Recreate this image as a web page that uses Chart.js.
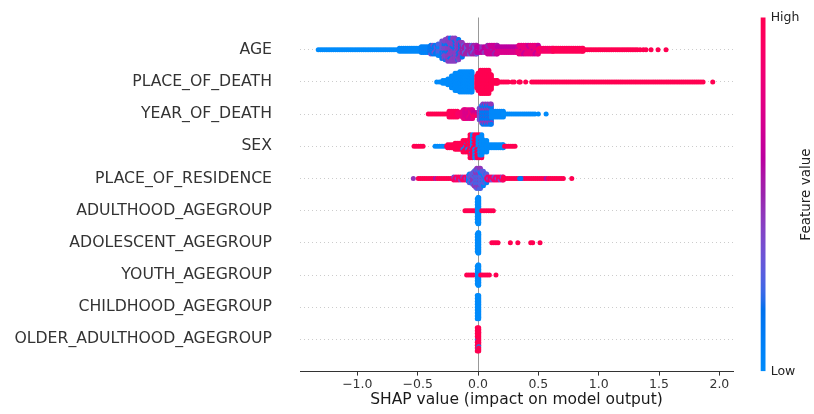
<!DOCTYPE html>
<html><head><meta charset="utf-8">
<script src="https://cdn.jsdelivr.net/npm/chart.js@4.4.1/dist/chart.umd.min.js"></script>
<style>html,body{margin:0;padding:0;background:#fff;}#wrap{width:814px;height:414px;}</style>
</head><body><div id="wrap"><canvas id="c" width="814" height="414"></canvas></div>
<script>
// ---------------- data ----------------
const features = ['AGE','PLACE_OF_DEATH','YEAR_OF_DEATH','SEX','PLACE_OF_RESIDENCE',
  'ADULTHOOD_AGEGROUP','ADOLESCENT_AGEGROUP','YOUTH_AGEGROUP','CHILDHOOD_AGEGROUP','OLDER_ADULTHOOD_AGEGROUP'];
const xTicks = [-1.0, -0.5, 0.0, 0.5, 1.0, 1.5, 2.0];
const colorbarLabels = ['Low', 'High'];
const colorbarTitle = 'Feature value';
const xTitle = 'SHAP value (impact on model output)';

// swarm runs:
// [shapFrom, shapTo, stackedLayers, featureValue(0=low..1=high), mixedFeatureValue, mixEvery]
const ageRuns = [
  [-1.324,-0.66,0,0.0],[-0.66,-0.47,1,0.02],[-0.47,-0.40,2,0.06,0.3,5],[-0.40,-0.33,3,0.12,0.35,4],
  [-0.33,-0.30,4,0.25,0.05,3],[-0.30,-0.28,6,0.35,0.1,4],[-0.28,-0.25,7,0.4,0.12,5],
  [-0.25,-0.19,8,0.42,0.12,5],[-0.19,-0.16,7,0.42,0.12,4],[-0.16,-0.13,5,0.45,0.15,4],
  [-0.13,-0.01,3,0.52,0.3,4],[-0.01,0.07,2,0.6,0.45,4],[0.07,0.16,3,0.66,0.5,5],[0.16,0.33,2,0.72,0.6,5],
  [0.33,0.50,3,0.8,0.65,5],[0.50,0.62,1,0.9,0.8,6],[0.62,0.87,1,0.97],[0.87,1.32,0,1.0],
  [1.343,1.343,0,1],[1.37,1.37,0,1],[1.392,1.392,0,1],[1.434,1.434,0,1],[1.492,1.492,0,1],[1.558,1.558,0,1]
];
const placeOfDeathRuns = [
  [-0.342,-0.30,0,0],[-0.30,-0.25,1,0],[-0.25,-0.22,2,0],[-0.22,-0.19,4,0],[-0.19,-0.16,6,0],[-0.16,-0.05,7,0],
  [-0.011,0.0,4,1],[0.0,0.02,6,1],[0.02,0.09,8,1],[0.09,0.11,5,1],[0.11,0.16,1,1],[0.16,0.25,0,1],
  [0.283,0.30,0,1],[0.34,0.35,0,1],[0.395,0.395,0,1],[0.445,1.865,0,1],[1.945,1.945,0,1]
];
const yearOfDeathRuns = [
  [-0.412,-0.24,0,1.0],[-0.24,-0.17,2,0.97],[-0.17,-0.13,1,0.9],[-0.13,-0.11,3,0.78],
  [-0.11,-0.045,3,0.72,0.82,4],[-0.045,0.01,1,0.9,0.65,3],[0.01,0.03,4,0.35,0.9,4],
  [0.03,0.11,7,0.12,0.45,3],[0.11,0.21,2,0.02],[0.21,0.472,0,0.0],[0.50,0.50,0,0],[0.564,0.564,0,0]
];
const sexRuns = [
  [-0.53,-0.455,0,1],[-0.356,-0.26,0,0],[-0.26,-0.19,1,1],[-0.19,-0.124,2,1],
  [-0.124,-0.066,4,1,0,6],[-0.066,0.031,8,1,0,4],[0.0,0.031,6,0,1,4],[0.031,0.072,4,0],
  [0.072,0.21,1,0],[0.22,0.307,0,1]
];
const placeOfResidenceRuns = [
  [-0.536,-0.536,0,0.45],[-0.495,-0.21,0,1.0,0.55,9],[-0.21,-0.08,1,0.92,0.4,4],
  [-0.08,-0.045,3,0.3,0.05,3],[-0.045,-0.02,5,0.28,0.45,3],[-0.02,0.02,7,0.25,0.45,3],[0.02,0.045,5,0.28,0.05,3],
  [0.045,0.072,3,0.3,0.05,3],[0.072,0.21,1,0.9,0.35,4],[0.21,0.707,0,1.0,0.55,11],
  [0.345,0.355,0,0.1],[0.777,0.777,0,1]
];
const adulthoodRuns = [[-0.108,-0.025,0,1],[-0.006,0.006,9,0],[0.031,0.127,0,1]];
const adolescentRuns = [[-0.006,0.006,7,0],[0.114,0.166,0,1],[0.268,0.268,0,1],[0.33,0.33,0,1],[0.437,0.453,0,1],[0.514,0.514,0,1]];
const youthRuns = [[-0.094,-0.039,0,1],[-0.006,0.006,7,0],[0.022,0.094,0,1],[0.149,0.149,0,1]];
const childhoodRuns = [[-0.006,0.006,8,0]];
const olderAdulthoodRuns = [[-0.006,0.006,8,1,0,13]];

const featureRuns = [ageRuns, placeOfDeathRuns, yearOfDeathRuns, sexRuns, placeOfResidenceRuns,
  adulthoodRuns, adolescentRuns, youthRuns, childhoodRuns, olderAdulthoodRuns];

// ---------------- SHAP red_blue colormap (LCH interpolation) ----------------
function lab2rgb(L, a, b) {
  const fy = (L + 16) / 116, fx = a / 500 + fy, fz = fy - b / 200;
  const f = v => { const v3 = v * v * v; return v3 > 0.008856 ? v3 : (v - 16 / 116) / 7.787; };
  const X = f(fx) * 0.95047, Y = f(fy), Z = f(fz) * 1.08883;
  const r = 3.24048134 * X - 1.53715152 * Y - 0.49853633 * Z;
  const g = -0.96925495 * X + 1.87599 * Y + 0.04155593 * Z;
  const bb = 0.05564664 * X - 0.20404134 * Y + 1.05731107 * Z;
  const gam = v => { v = v > 0.0031308 ? 1.055 * Math.pow(v, 1 / 2.4) - 0.055 : 12.92 * v; return Math.min(1, Math.max(0, v)) * 255; };
  return [gam(r), gam(g), gam(bb)];
}
const CM = [];
(function () {
  const blue = [54, 70, 4.6588], red = [54, 90, 0.35470565 + 2 * Math.PI], lmid = 40, n = 100, half = n / 2;
  for (let i = 0; i < n; i++) {
    const l = i < half ? blue[0] + (lmid - blue[0]) * i / (half - 1) : lmid + (red[0] - lmid) * (i - half) / (half - 1);
    const c = blue[1] + (red[1] - blue[1]) * i / (n - 1);
    const h = blue[2] + (red[2] - blue[2]) * i / (n - 1);
    CM.push(lab2rgb(l, c * Math.cos(h), c * Math.sin(h)));
  }
})();
function cmap(t) {
  t = Math.min(1, Math.max(0, t));
  const p = t * (CM.length - 1), i = Math.min(CM.length - 2, Math.floor(p)), f = p - i;
  const c = [0, 1, 2].map(k => Math.round(CM[i][k] * (1 - f) + CM[i + 1][k] * f));
  return `rgb(${c[0]},${c[1]},${c[2]})`;
}

// ---------------- swarm layout ----------------
const LAYER = 1.45 / 32.2;   // row units per stacked layer
const COL_STEP = 0.018;      // spacing of stacked columns inside a dense run
function buildPoints(runs, row) {
  const data = [], colors = [];
  let k = 0;
  for (const r of runs) {
    const [x0, x1, h, c, cAlt, every] = r;
    const n = Math.max(1, Math.round((x1 - x0) / COL_STEP) + 1);
    for (let i = 0; i < n; i++) {
      const x = n === 1 ? x0 : x0 + (x1 - x0) * i / (n - 1);
      for (let j = 0; j <= 2 * h; j++) {
        const L = j % 2 ? (j + 1) / 2 : -j / 2;
        const alt = cAlt !== undefined && (k % (every || 3) === 0);
        const xs = (n > 1 && (Math.abs(L) % 2 === 1) && i < n - 1) ? x + (x1 - x0) / (n - 1) / 2 : x;
        data.push({ x: xs, y: row + L * LAYER });
        colors.push(cmap(alt ? cAlt : c));
        k++;
      }
    }
  }
  return { data, colors };
}

const fmt = v => (v < 0 ? '\u2212' : '') + Math.abs(v).toFixed(1);

const colorbarPlugin = {
  id: 'cbar',
  afterDraw(chart) {
    const { ctx, chartArea: a } = chart;
    const x = a.right + 27.7, w = 4.8, top = a.top, bot = a.bottom - 0.5;
    const g = ctx.createLinearGradient(0, bot, 0, top);
    for (let i = 0; i <= 40; i++) g.addColorStop(i / 40, cmap(i / 40));
    ctx.save();
    ctx.fillStyle = g;
    ctx.fillRect(x, top, w, bot - top);
    ctx.fillStyle = '#222';
    ctx.font = '12.5px "DejaVu Sans"';
    ctx.textAlign = 'left';
    ctx.textBaseline = 'middle';
    ctx.fillText(colorbarLabels[1], x + 10, top);
    ctx.fillText(colorbarLabels[0], x + 10, bot + 1);
    ctx.translate(a.right + 73, (a.top + a.bottom) / 2);
    ctx.rotate(-Math.PI / 2);
    ctx.textAlign = 'center';
    ctx.font = '13.5px "DejaVu Sans"';
    ctx.fillText(colorbarTitle, 0, 0);
    ctx.restore();
  }
};

const datasets = features.map((f, i) => {
  const p = buildPoints(featureRuns[i], i);
  return { label: f, data: p.data, backgroundColor: p.colors, pointRadius: 2.5, pointHoverRadius: 2.5,
    borderWidth: 0, pointBorderWidth: 0 };
});

new Chart(document.getElementById('c'), {
  type: 'scatter',
  data: { datasets },
  options: {
    responsive: false, animation: false, devicePixelRatio: 1, events: [],
    layout: { padding: { left: 0, right: 81, top: 17.5, bottom: 0 } },
    plugins: { legend: { display: false }, tooltip: { enabled: false } },
    scales: {
      x: {
        type: 'linear', min: -1.475, max: 2.113,
        afterBuildTicks: s => { s.ticks = xTicks.map(v => ({ value: v })); },
        ticks: { callback: v => fmt(v), font: { family: 'DejaVu Sans', size: 12.5 }, color: '#333', padding: 2, autoSkip: false, maxRotation: 0 },
        grid: { color: c => (c.tick && Math.abs(c.tick.value) < 1e-9 ? '#999999' : 'rgba(0,0,0,0)'), lineWidth: 1,
          drawTicks: true, tickLength: 4, tickColor: '#333', tickWidth: 1 },
        border: { display: true, color: '#333', width: 1 },
        title: { display: true, text: xTitle, font: { family: 'DejaVu Sans', size: 15.5 }, color: '#1a1a1a', padding: { top: 0, bottom: 5 } },
        afterFit: s => { s.height = 42.4; s.paddingLeft = 0; s.paddingRight = 0; }
      },
      y: {
        type: 'linear', min: -1, max: 10, reverse: true,
        afterBuildTicks: s => { s.ticks = features.map((_, i) => ({ value: i })); },
        ticks: { callback: v => features[v], font: { family: 'DejaVu Sans', size: 15.7 }, color: '#333', padding: 28, autoSkip: false },
        grid: { color: '#cccccc', lineWidth: 1, drawTicks: false, borderDash: [1, 3] },
        border: { display: false, dash: [1, 3] },
        afterFit: s => { s.width = 300; s.paddingTop = 0; s.paddingBottom = 0; }
      }
    }
  },
  plugins: [colorbarPlugin]
});
</script></body></html>
